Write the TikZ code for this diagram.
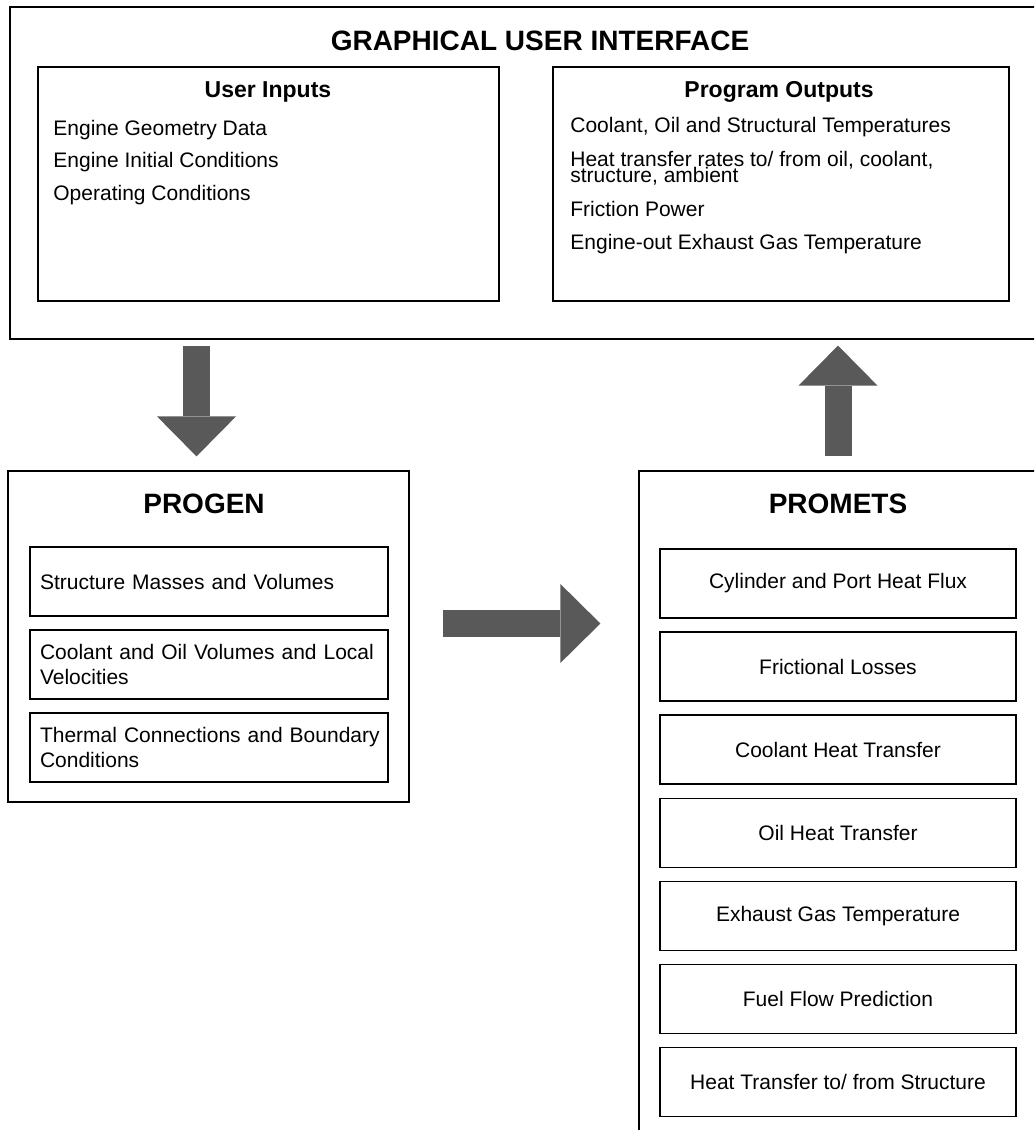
\documentclass[tikz,border=0pt]{standalone}
\usepackage{fontspec}
\setmainfont{Liberation Sans}
\usepackage{tikz}
\usetikzlibrary{arrows.meta}
\definecolor{arrowgray}{RGB}{89,89,89}

\begin{document}
\begin{tikzpicture}[x=0.5pt, y=-0.5pt,
    box/.style={draw, line width=0.6pt, inner sep=0pt},
    title/.style={anchor=base, font=\bfseries\fontsize{14}{17}\selectfont},
    subtitle/.style={anchor=base, font=\bfseries\fontsize{11.5}{14}\selectfont},
    item/.style={anchor=base west, inner sep=0pt, font=\fontsize{10.5}{12.5}\selectfont},
    progenbox/.style={draw, line width=0.7pt, minimum width=179pt, minimum height=34.5pt,
        inner xsep=5pt, text width=169pt, align=left, font=\fontsize{10.5}{12.5}\selectfont},
    prometsbox/.style={draw, line width=0.7pt, minimum width=178pt, minimum height=34.5pt,
        align=center, font=\fontsize{10.5}{12.5}\selectfont},
    bigarrow/.style={draw=arrowgray, line width=13.5pt,
        -{Triangle[width=39.5pt, length=20pt, line width=0pt]}}
]
    \useasboundingbox (0, 0) rectangle (1034, 1130);
    \clip (0, 0) rectangle (1034, 1130);

    \node[box, minimum width=530pt, minimum height=166pt] at (540, 173) (gui) {};
    \node[title] at (540, 50) (guititle) {GRAPHICAL USER INTERFACE};

    \node[box, minimum width=230.5pt, minimum height=117pt] at (268.5, 184) (inputs) {};
    \node[subtitle] at (268, 97) (inputstitle) {User Inputs};
    \node[item] at (53, 135) (in1) {Engine Geometry Data};
    \node[item] at (53, 167) (in2) {Engine Initial Conditions};
    \node[item] at (53, 200) (in3) {Operating Conditions};

    \node[box, minimum width=228pt, minimum height=117pt] at (781, 184) (outputs) {};
    \node[subtitle] at (779, 97) (outputstitle) {Program Outputs};
    \node[item] at (570, 132) (out1) {Coolant, Oil and Structural Temperatures};
    \node[item, align=left] at (570, 182) (out2)
        {Heat transfer rates to/ from oil, coolant,\\[-4.5pt]structure, ambient};
    \node[item] at (570, 216) (out3) {Friction Power};
    \node[item] at (570, 249) (out4) {Engine-out Exhaust Gas Temperature};

    \node[box, minimum width=200.5pt, minimum height=165.5pt] at (208.5, 636.5) (progen) {};
    \node[title] at (204, 513) (progentitle) {PROGEN};
    \node[progenbox] at (209, 581.5) (masses) {Structure Masses and Volumes};
    \node[progenbox] at (209, 664.5) (volumes) {\mbox{Coolant and Oil Volumes and Local}\\Velocities};
    \node[progenbox] at (209, 747.5) (connections) {\mbox{Thermal Connections and Boundary}\\Conditions};

    \node[box, minimum width=199pt, minimum height=354.5pt] at (838, 825.5) (promets) {};
    \node[title] at (838, 513) (prometstitle) {PROMETS};
    \node[prometsbox] at (838, 583.5) (heatflux) {Cylinder and Port Heat Flux};
    \node[prometsbox] at (838, 666.5) (friction) {Frictional Losses};
    \node[prometsbox] at (838, 749.5) (coolant) {Coolant Heat Transfer};
    \node[prometsbox] at (838, 833) (oil) {Oil Heat Transfer};
    \node[prometsbox] at (838, 916) (exhaust) {Exhaust Gas Temperature};
    \node[prometsbox] at (838, 999) (fuel) {Fuel Flow Prediction};
    \node[prometsbox] at (838, 1082) (structure) {Heat Transfer to/ from Structure};

    \draw[bigarrow] ([xshift=-6pt, yshift=-3pt]gui.south -| progen.north) -- ([xshift=-6pt, yshift=7pt]progen.north);
    \draw[bigarrow] ([xshift=16.5pt, yshift=6.5pt]progen.east) -- ([xshift=-19pt, yshift=6.5pt]progen.east -| promets.west);
    \draw[bigarrow] ([yshift=7pt]promets.north) -- ([yshift=-3pt]promets.north |- gui.south);
\end{tikzpicture}
\end{document}
